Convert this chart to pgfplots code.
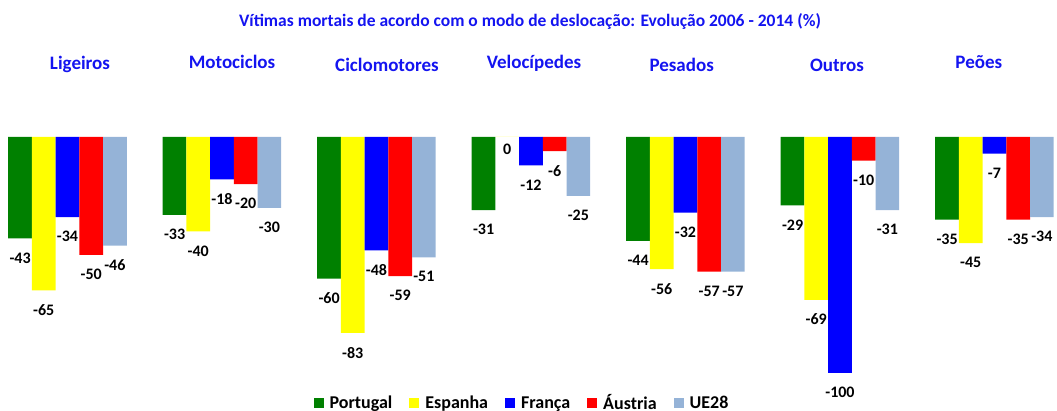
\documentclass[border=0pt]{standalone}
\usepackage{pgfplots}
\pgfplotsset{compat=1.18}
\usepackage{fontspec}
\setmainfont{Carlito}
\definecolor{cPT}{RGB}{0,128,0}
\definecolor{cES}{RGB}{255,255,0}
\definecolor{cFR}{RGB}{0,0,255}
\definecolor{cAT}{RGB}{255,0,0}
\definecolor{cEU}{RGB}{149,179,215}
\definecolor{tblue}{RGB}{20,20,240}
\begin{document}
\begin{tikzpicture}[x=1pt,y=1pt]
\useasboundingbox (0,0) rectangle (1057,411);
\begin{axis}[
  at={(0,0)}, anchor=south west,
  scale only axis, width=1057pt, height=411pt,
  hide axis, clip=false,
  xmin=-0.4369, xmax=6.4045,
  ymin=-116.1, ymax=58.05,
  ybar=0pt, bar width=23.7pt,
  nodes near coords,
  visualization depends on={y \as \rawy},
  /pgf/number format/assume math mode=true,
  every node near coord/.append style={anchor=north, inner sep=1pt, yshift={(\rawy>-0.5)*7-13},
     font=\bfseries\fontsize{16}{16}\selectfont, text=black},
  legend columns=-1,
  legend style={draw=none, fill=none, at={(axis description cs:0.4939,0.0195)}, anchor=center,
     font=\bfseries\fontsize{18}{18}\selectfont,
     /tikz/every odd column/.append style={column sep=4pt},
     /tikz/every even column/.append style={column sep=15pt}},
  legend image code/.code={\fill[#1,draw=none] (0pt,-5pt) rectangle (10pt,5pt);},
]
\addplot[fill=cPT, draw=none] coordinates {(0,-43) (1,-33) (2,-60) (3,-31) (4,-44) (5,-29) (6,-35)};
\addplot[fill=cES, draw=none] coordinates {(0,-65) (1,-40) (2,-83) (3,0) (4,-56) (5,-69) (6,-45)};
\addplot[fill=cFR, draw=none] coordinates {(0,-34) (1,-18) (2,-48) (3,-12) (4,-32) (5,-100) (6,-7)};
\addplot[fill=cAT, draw=none] coordinates {(0,-50) (1,-20) (2,-59) (3,-6) (4,-57) (5,-10) (6,-35)};
\addplot[fill=cEU, draw=none] coordinates {(0,-46) (1,-30) (2,-51) (3,-25) (4,-57) (5,-31) (6,-34)};
\legend{Portugal, Espanha, França, Áustria, UE28}
\end{axis}
\node[anchor=base, text=tblue, font=\bfseries\fontsize{17.5}{17.5}\selectfont] at (530,384.5)
  {Vítimas mortais de acordo com o modo de deslocação: Evolução 2006 - 2014 (\%)};
\begin{scope}[every node/.style={anchor=base, text=tblue, font=\bfseries\fontsize{19}{19}\selectfont}]
\node at (80,341.5) {Ligeiros};
\node at (232,342) {Motociclos};
\node at (387,339.3) {Ciclomotores};
\node at (534,342) {Velocípedes};
\node at (681.7,339.3) {Pesados};
\node at (837,339.3) {Outros};
\node at (978.8,342) {Peões};
\end{scope}
\end{tikzpicture}
\end{document}
